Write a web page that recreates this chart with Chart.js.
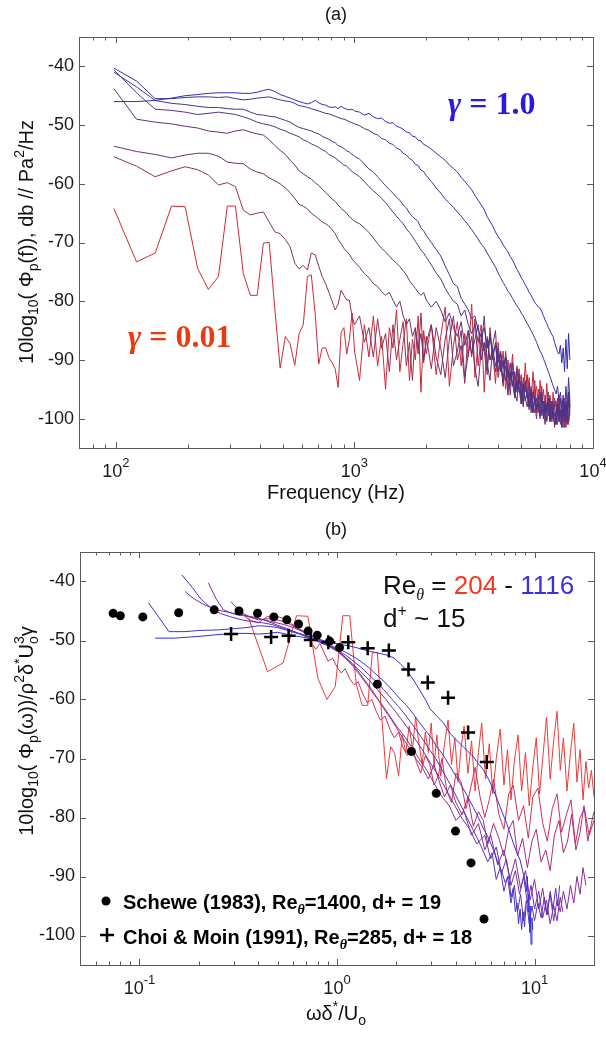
<!DOCTYPE html>
<html>
<head>
<meta charset="utf-8">
<script src="https://cdn.jsdelivr.net/npm/chart.js@4/dist/chart.umd.min.js"></script>
<style>
  html, body { margin: 0; padding: 0; background: #fff; }
  #wrap { position: relative; width: 606px; height: 1037px; overflow: hidden; }
  canvas { position: absolute; left: 0; }
  #chartA { top: 0; }
  #chartB { top: 518px; }
</style>
</head>
<body>
<div id="wrap">
  <canvas id="chartA" width="606" height="518"></canvas>
  <canvas id="chartB" width="606" height="519"></canvas>
</div>
<script>
// ---- panel (a): spectra vs frequency, gamma = 1.0 (psd1) ... 0.01 (psd8)
const freqHz = [98,122,146,171,195,220,244,269,293,317,342,366,391,415,439,464,488,513,537,562,586,610,635,659,684,708,732,757,781,806,830,854,879,903,928,952,977,1001,
  1050,1100,1150,1200,1250,1300,1350,1400,1450,1500,1550,1600,1650,1700,1750,1800,1850,1900,1950,2000,
  2100,2200,2300,2400,2500,2600,2700,2800,2900,3000,3100,3200,3300,3400,3500,3600,3700,3800,3900,4000,
  4100,4200,4300,4400,4500,4600,4700,4800,4900,5000,5100,5200,5300,5400,5500,5600,5700,5800,5900,6000,
  6100,6200,6300,6400,6500,6600,6700,6800,6900,7000,7100,7200,7300,7400,7500,7600,7700,7800,7900,8000];

const psd1 = [-46.0,-46.0,-45.8,-45.4,-45.0,-44.8,-44.6,-44.5,-44.5,-44.5,-44.6,-44.6,-44.4,-44.1,-43.9,-44.3,-44.8,-45.1,-45.4,-45.7,-46.0,-46.2,-46.4,-46.2,-45.8,-46.2,-46.5,-46.6,-46.9,-47.0,-46.9,-47.2,-46.8,-47.1,-47.3,-47.4,-47.3,-47.6,
  -47.8,-48.3,-48.0,-48.6,-48.9,-48.8,-49.4,-49.7,-49.6,-50.2,-50.4,-50.7,-51.2,-51.3,-51.9,-52.0,-52.6,-52.7,-53.3,-53.5,
  -54.1,-54.8,-55.4,-56.0,-56.8,-57.4,-58.0,-58.9,-59.6,-60.3,-61.0,-62.0,-62.8,-63.6,-64.4,-65.6,-66.4,-67.2,-68.2,-69.0,
  -69.6,-70.4,-71.0,-71.6,-72.4,-73.0,-73.8,-74.6,-75.2,-76.0,-76.5,-77.2,-77.8,-78.5,-79.0,-79.6,-80.2,-80.6,-81.0,-81.2,
  -81.8,-82.5,-83.2,-83.8,-84.5,-85.0,-85.6,-86.0,-87.0,-87.8,-88.6,-89.0,-87.5,-90.5,-88.0,-92.0,-86.5,-91.5,-85.5,-90.0];
const psd2 = [-40.3,-42.5,-45.5,-45.5,-45.3,-45.2,-45.2,-45.3,-45.2,-45.5,-45.7,-45.6,-45.4,-45.3,-45.2,-45.5,-45.7,-45.9,-46.0,-46.3,-46.7,-46.8,-47.0,-47.2,-47.4,-47.6,-47.8,-48.0,-48.1,-48.3,-48.5,-48.7,-48.9,-49.0,-49.2,-49.4,-49.6,-49.8,
  -50.1,-50.6,-50.9,-51.4,-51.7,-52.3,-52.5,-53.1,-53.3,-53.9,-54.2,-54.8,-55.1,-55.7,-56.0,-56.7,-56.9,-57.7,-57.9,-58.6,
  -59.6,-60.7,-61.6,-62.6,-63.3,-64.0,-64.8,-65.5,-66.3,-67.0,-67.8,-68.6,-69.4,-70.3,-70.9,-71.8,-72.6,-73.4,-74.2,-75.2,
  -76.0,-76.8,-77.5,-78.3,-78.8,-79.5,-80.2,-80.8,-81.3,-82.0,-82.5,-83.2,-83.8,-84.4,-85.0,-85.6,-86.3,-87.0,-87.8,-88.5,
  -89.0,-89.8,-90.5,-91.3,-92.0,-92.8,-93.6,-94.4,-95.0,-95.8,-94.5,-97.0,-95.5,-98.0,-96.0,-99.0,-94.5,-98.5,-93.0,-97.0];
const psd3 = [-41.0,-43.5,-45.8,-46.3,-46.5,-46.8,-47.0,-47.0,-47.2,-47.3,-47.3,-47.8,-48.2,-48.3,-48.5,-48.6,-48.9,-49.2,-49.5,-50.0,-50.4,-50.6,-50.8,-51.0,-51.3,-51.5,-51.9,-52.2,-52.4,-52.8,-53.0,-53.5,-53.7,-54.0,-54.4,-54.6,-55.0,-55.3,
  -55.8,-56.6,-57.5,-58.0,-58.8,-59.6,-60.3,-61.0,-61.6,-62.3,-62.8,-63.6,-64.1,-65.0,-65.6,-66.0,-66.5,-67.5,-68.0,-68.8,
  -70.0,-71.2,-72.3,-74.0,-75.5,-77.0,-77.5,-79.5,-80.5,-81.5,-83.0,-82.5,-85.0,-86.0,-84.5,-88.0,-86.0,-89.0,-87.5,-90.5,
  -88.5,-91.5,-89.5,-93.0,-90.5,-94.5,-92.0,-95.5,-93.0,-96.5,-94.0,-97.0,-95.5,-98.0,-95.0,-99.0,-96.5,-98.0,-97.5,-99.5,
  -96.5,-100.0,-98.0,-99.0,-97.0,-100.5,-98.5,-99.5,-97.5,-101.0,-98.0,-100.0,-96.5,-99.5,-98.5,-100.5,-97.0,-99.0,-95.5,-98.0];
const psd4 = [-40.6,-44.5,-47.3,-47.5,-47.8,-48.2,-48.0,-47.8,-48.0,-48.2,-48.6,-49.0,-49.5,-49.8,-50.0,-50.3,-50.7,-51.0,-51.4,-51.7,-52.0,-52.5,-52.8,-53.2,-53.5,-53.8,-54.2,-54.5,-55.0,-55.3,-55.6,-56.0,-56.4,-56.8,-57.0,-57.5,-57.9,-58.2,
  -58.8,-59.6,-60.5,-61.2,-61.8,-62.5,-63.2,-64.0,-64.8,-65.5,-66.2,-66.8,-67.7,-68.3,-69.0,-69.8,-70.5,-71.3,-71.8,-72.5,
  -73.8,-75.2,-76.2,-77.8,-79.0,-80.0,-80.5,-82.5,-81.5,-84.0,-85.5,-84.0,-87.0,-85.5,-88.5,-86.5,-90.0,-88.0,-91.0,-89.0,
  -92.0,-90.0,-93.5,-91.5,-94.5,-92.0,-96.0,-93.5,-95.0,-97.5,-94.5,-96.5,-98.0,-95.5,-97.0,-99.0,-96.0,-98.5,-97.0,-100.0,
  -98.0,-99.0,-97.0,-100.5,-98.5,-99.5,-97.5,-100.0,-99.0,-101.0,-97.5,-100.0,-98.5,-101.5,-99.0,-100.0,-97.5,-100.5,-96.0,-99.0];
const psd5 = [-43.8,-49.0,-49.5,-49.8,-50.2,-50.5,-51.0,-51.2,-51.4,-51.0,-50.8,-51.2,-51.5,-51.7,-52.5,-53.5,-54.3,-55.0,-56.0,-56.8,-57.8,-58.3,-58.8,-59.2,-59.8,-60.3,-60.9,-61.5,-62.0,-62.6,-63.0,-63.6,-64.2,-64.6,-65.0,-65.6,-66.0,-66.4,
  -66.8,-67.5,-68.3,-69.2,-70.2,-71.0,-71.6,-72.3,-73.0,-73.5,-74.1,-74.8,-75.5,-76.5,-77.2,-77.8,-78.5,-79.0,-78.5,-79.8,
  -81.0,-80.0,-81.5,-83.5,-82.0,-84.5,-86.0,-83.5,-87.5,-85.0,-89.0,-86.5,-84.0,-90.0,-87.0,-91.5,-85.5,-89.5,-92.0,-88.0,
  -91.0,-93.5,-89.5,-95.0,-92.0,-94.0,-96.5,-91.5,-95.5,-93.5,-97.5,-94.0,-96.0,-98.5,-95.0,-97.5,-99.0,-96.5,-98.0,-95.5,
  -99.5,-97.0,-100.0,-98.0,-96.5,-100.5,-98.5,-97.0,-101.0,-99.0,-97.5,-100.5,-99.0,-101.5,-97.0,-100.0,-98.5,-101.0,-97.0,-99.5];
const psd6 = [-53.6,-54.5,-55.0,-55.6,-55.1,-54.8,-54.8,-55.3,-56.3,-56.5,-56.6,-57.5,-58.0,-58.3,-59.0,-59.5,-60.0,-60.7,-61.5,-62.5,-63.5,-63.8,-64.3,-65.0,-65.5,-66.0,-66.5,-66.8,-67.2,-67.8,-68.5,-69.5,-70.2,-71.0,-71.6,-72.0,-72.8,-73.3,
  -74.2,-75.3,-76.0,-77.0,-77.5,-78.4,-79.0,-78.5,-79.8,-81.0,-80.0,-82.5,-84.0,-83.0,-86.0,-84.5,-88.0,-85.5,-90.0,-87.0,
  -84.0,-89.5,-92.5,-86.5,-83.0,-91.0,-88.5,-85.0,-93.0,-89.0,-86.0,-91.5,-94.5,-88.0,-82.5,-90.5,-93.5,-87.5,-85.0,-92.0,
  -89.0,-94.0,-91.0,-96.0,-93.0,-90.5,-95.5,-97.0,-92.5,-95.0,-98.0,-93.5,-96.5,-94.0,-99.0,-95.5,-97.5,-100.0,-96.0,-98.5,
  -95.5,-99.0,-101.0,-97.5,-99.5,-96.5,-100.0,-98.0,-101.5,-99.0,-96.5,-100.5,-98.5,-100.0,-97.0,-101.5,-99.5,-98.0,-100.5,-97.0];
const psd7 = [-55.4,-57.0,-58.8,-57.8,-57.1,-57.6,-58.5,-60.2,-59.8,-60.5,-64.5,-65.3,-65.0,-64.8,-66.5,-68.2,-68.5,-69.5,-70.7,-73.5,-74.5,-73.9,-74.7,-71.8,-72.1,-74.0,-75.8,-77.0,-78.5,-80.0,-81.5,-80.5,-78.1,-79.0,-79.8,-79.8,-82.6,-84.0,
  -82.5,-87.0,-84.5,-89.5,-83.0,-88.0,-85.5,-92.0,-84.0,-90.0,-86.5,-83.5,-91.0,-87.0,-93.5,-85.0,-89.0,-82.0,-90.5,-86.0,
  -91.5,-84.5,-88.0,-93.0,-86.5,-82.5,-90.0,-87.5,-94.0,-85.0,-89.5,-83.0,-91.0,-86.0,-88.5,-92.5,-84.5,-90.0,-87.0,-93.0,
  -90.0,-94.5,-88.5,-92.0,-96.0,-90.5,-93.5,-95.0,-91.5,-97.5,-93.0,-95.5,-92.5,-98.0,-94.5,-96.5,-93.5,-99.0,-95.0,-97.0,
  -94.5,-100.0,-96.0,-98.5,-95.5,-99.5,-97.0,-100.5,-96.5,-98.0,-99.5,-97.0,-101.0,-98.5,-100.0,-97.5,-101.5,-99.0,-100.5,-98.0];
const psd8 = [-64.2,-73.3,-71.8,-63.8,-63.9,-74.4,-78.0,-75.8,-63.8,-63.8,-75.3,-79.0,-79.0,-70.1,-70.0,-81.5,-91.4,-86.0,-87.2,-90.9,-85.5,-84.0,-75.8,-75.5,-82.0,-90.7,-88.0,-87.9,-89.6,-90.5,-91.5,-94.7,-85.3,-84.5,-89.0,-86.5,-82.0,-88.5,
  -93.5,-84.0,-89.5,-82.5,-91.0,-86.0,-95.0,-84.5,-88.0,-81.5,-92.0,-87.0,-83.0,-93.5,-86.5,-90.0,-82.5,-95.5,-85.0,-89.0,
  -84.0,-92.5,-86.0,-81.0,-94.5,-87.5,-83.5,-91.0,-85.5,-89.5,-80.5,-93.0,-87.0,-84.0,-95.5,-86.0,-90.0,-88.5,-94.0,-87.0,
  -92.0,-88.5,-95.0,-90.0,-93.5,-89.0,-96.5,-91.0,-94.0,-92.5,-97.0,-90.5,-95.5,-93.0,-98.0,-92.0,-96.0,-94.5,-99.0,-93.5,
  -97.5,-95.0,-99.5,-94.0,-98.5,-96.0,-100.5,-95.5,-98.0,-97.0,-101.0,-96.0,-99.5,-97.5,-101.5,-96.5,-100.0,-98.0,-101.0,-97.5];

// ---- panel (b): normalised spectra, Re_theta 1116 (1) ... 204 (8)
const omega1 = [0.12,0.15,0.2,0.25,0.3,0.35,0.4,0.45,0.5,0.55,0.6,0.66,0.72,0.8,0.88,0.95,1.05,1.15,1.25,1.35,1.45,1.55,1.65,1.8,1.95,2.1,2.25,2.44,2.6,2.8,2.96,3.2,3.46,3.73,4.0,4.36,4.6,4.9,5.2,5.5,5.85,6.19,6.45,6.69,6.95,7.23,7.5,7.82,8.1,8.45,8.7,8.95,9.1,9.2,9.3,9.35,9.45,9.5,9.6,9.7,9.8];
const phi1 = [-49.6,-49.6,-49.3,-49.0,-48.8,-48.8,-48.9,-48.8,-48.6,-48.9,-49.2,-49.4,-49.6,-49.8,-50.1,-50.4,-50.7,-50.9,-51.2,-51.5,-51.8,-52.0,-52.2,-52.5,-53.0,-54.0,-55.0,-56.7,-58.2,-60.0,-61.6,-62.8,-64.0,-65.7,-66.8,-68.0,-68.8,-69.7,-70.9,-71.9,-73.5,-75.3,-76.8,-78.2,-79.6,-81.0,-82.6,-84.4,-85.8,-87.2,-89.0,-90.6,-92.5,-90.0,-96.0,-93.0,-99.5,-95.0,-101.5,-97.0,-99.0];
const omega2 = [0.111,0.125,0.141,0.17,0.2,0.25,0.3,0.35,0.4,0.45,0.5,0.55,0.6,0.66,0.72,0.8,0.88,0.95,1.05,1.15,1.25,1.35,1.45,1.55,1.65,1.8,1.95,2.1,2.25,2.44,2.6,2.8,3.0,3.2,3.46,3.73,4.0,4.3,4.6,4.9,5.2,5.5,5.85,6.2,6.5,6.8,7.1,7.4,7.6,7.8,8.0,8.15,8.3,8.45,8.6,8.75,8.9,9.06];
const phi2 = [-43.6,-46.0,-48.5,-48.5,-48.3,-48.2,-48.0,-47.8,-47.5,-47.6,-47.8,-48.2,-48.6,-49.0,-49.4,-49.9,-50.5,-51.0,-51.6,-52.3,-53.0,-53.8,-54.6,-55.5,-56.3,-57.5,-58.8,-60.0,-61.0,-62.5,-63.8,-65.2,-66.5,-68.0,-69.5,-71.3,-73.0,-74.8,-76.5,-78.3,-80.0,-81.8,-83.5,-85.5,-87.5,-89.0,-91.0,-90.0,-93.5,-92.0,-96.0,-94.5,-98.0,-95.5,-99.0,-96.0,-98.5,-95.0];
const omega3 = [0.164,0.185,0.205,0.23,0.256,0.29,0.33,0.37,0.42,0.47,0.52,0.57,0.63,0.7,0.77,0.85,0.93,1.02,1.12,1.22,1.33,1.45,1.58,1.72,1.88,2.05,2.24,2.44,2.66,2.9,3.16,3.45,3.76,4.1,4.47,4.87,5.3,5.8,6.1,6.4,6.7,7.0,7.3,7.6,7.9,8.2,8.5,8.8,9.1,9.4,9.7,10.0,10.4,10.8,11.2,11.6,12.0,12.4,12.8,13.1,13.4];
const phi3 = [-38.9,-41.0,-43.0,-44.5,-45.4,-46.0,-46.5,-46.8,-47.0,-47.3,-47.8,-48.2,-48.7,-49.2,-49.8,-50.4,-51.0,-51.8,-52.6,-53.6,-54.6,-55.8,-57.0,-58.3,-59.8,-61.2,-62.8,-64.5,-66.3,-68.2,-70.0,-72.3,-74.5,-77.0,-79.5,-82.0,-84.5,-87.5,-86.0,-90.5,-88.5,-92.5,-90.0,-94.5,-91.5,-96.0,-93.0,-97.5,-94.0,-98.0,-95.0,-97.5,-94.5,-97.0,-93.5,-96.5,-92.5,-95.5,-92.0,-95.0,-91.5];
const omega4 = [0.170,0.19,0.215,0.245,0.28,0.32,0.36,0.4,0.45,0.5,0.56,0.62,0.68,0.75,0.83,0.91,1.0,1.1,1.2,1.32,1.45,1.6,1.75,1.92,2.1,2.3,2.52,2.76,3.0,3.3,3.6,3.95,4.3,4.7,5.1,5.6,6.0,6.4,6.8,7.2,7.6,8.0,8.4,8.8,9.2,9.6,10.0,10.5,11.0,11.5,12.0,12.5,13.0,13.5,13.9];
const phi4 = [-41.7,-43.0,-44.0,-44.8,-45.2,-45.6,-45.9,-46.2,-46.8,-47.4,-48.0,-48.6,-49.2,-49.8,-50.4,-51.0,-51.8,-52.8,-54.0,-55.3,-56.7,-58.3,-59.8,-61.5,-63.2,-65.0,-67.0,-69.0,-71.0,-73.2,-75.5,-78.0,-80.2,-82.0,-84.5,-83.0,-87.0,-85.0,-89.5,-87.0,-91.5,-89.0,-93.0,-90.0,-94.5,-91.5,-95.5,-92.5,-97.0,-94.0,-98.0,-95.0,-97.5,-93.5,-96.0];
const omega5 = [0.223,0.245,0.266,0.3,0.34,0.38,0.43,0.48,0.54,0.6,0.67,0.74,0.82,0.9,1.0,1.1,1.2,1.3,1.42,1.55,1.7,1.85,2.0,2.2,2.4,2.62,2.85,3.1,3.4,3.7,4.0,4.4,4.8,5.2,5.6,6.0,6.5,7.0,7.5,8.0,8.5,9.0,9.5,10.0,10.5,11.0,11.5,12.0,12.5,13.0,13.5,14.0,14.6,15.2,15.8,16.4,17.0,17.6,18.2];
const phi5 = [-40.2,-43.0,-44.8,-45.5,-45.8,-46.2,-46.5,-46.9,-47.3,-47.8,-48.5,-49.2,-50.0,-50.8,-51.8,-53.0,-54.3,-55.8,-57.5,-59.3,-61.0,-62.8,-64.5,-66.3,-68.2,-70.2,-72.0,-74.2,-76.5,-78.0,-80.5,-79.0,-83.0,-81.0,-85.5,-83.0,-88.0,-85.5,-90.5,-87.0,-92.0,-89.0,-94.0,-90.5,-95.5,-92.0,-96.5,-93.0,-97.5,-94.0,-96.0,-92.5,-95.5,-91.5,-94.5,-90.0,-93.0,-88.5,-91.5];
const omega6 = [0.29,0.32,0.36,0.4,0.45,0.5,0.56,0.62,0.69,0.76,0.84,0.92,1.0,1.1,1.2,1.3,1.4,1.5,1.6,1.72,1.85,2.0,2.15,2.3,2.5,2.7,2.9,3.1,3.3,3.5,3.75,4.0,4.3,4.6,4.9,5.2,5.5,5.8,6.2,6.6,7.0,7.4,7.8,8.2,8.7,9.2,9.7,10.2,10.8,11.4,12.0,12.6,13.3,14.0,14.7,15.4,16.2,17.0,17.8,18.6,19.4,20.0];
const phi6 = [-43.4,-45.0,-46.0,-46.5,-46.3,-46.5,-47.0,-47.8,-48.5,-49.3,-50.0,-50.8,-51.6,-52.8,-54.0,-55.5,-57.0,-58.3,-59.8,-61.5,-63.0,-64.8,-66.5,-68.0,-70.0,
  -71.5,-73.5,-71.0,-74.0,-76.5,-74.5,-77.5,-79.5,-76.5,-81.5,-79.0,-80.5,-84.5,-81.0,-83.5,-86.5,-82.0,-80.5,-86.5,-83.5,-88.5,-84.0,-82.0,-87.5,-85.5,-89.0,-83.0,-80.5,-86.0,-84.0,-79.5,-85.5,-82.5,-78.0,-84.0,-81.0,-79.0];
const omega7 = [0.33,0.36,0.4,0.44,0.48,0.53,0.58,0.63,0.68,0.73,0.78,0.82,0.86,0.9,0.95,1.0,1.05,1.1,1.16,1.22,1.28,1.35,1.42,1.5,1.58,1.66,1.75,1.85,1.95,2.05,2.15,2.27,2.4,2.52,2.65,2.8,2.95,3.1,3.25,3.4,3.6,3.8,4.0,4.25,4.5,4.75,5.0,5.3,5.6,5.9,6.2,6.6,7.0,7.4,7.8,8.3,8.8,9.3,9.8,10.4,11.0,11.6,12.3,13.0,13.7,14.5,15.3,16.1,17.0,17.9,18.9,20.0];
const phi7 = [-45.5,-46.5,-47.0,-46.0,-45.8,-46.2,-47.0,-48.0,-48.6,-50.0,-51.5,-50.5,-52.0,-53.5,-53.0,-54.5,-55.5,-54.8,-56.5,-57.5,-57.0,-59.0,-60.5,-60.0,-62.0,-63.5,-62.8,-65.0,-66.5,-65.5,-68.0,-69.5,
  -68.0,-70.5,-72.5,-69.5,-71.0,-74.5,-73.0,-70.0,-75.5,-77.5,-72.5,-74.0,-78.5,-75.0,-71.5,-76.5,-80.0,-77.0,-73.5,-79.5,-82.0,-76.0,-74.5,-80.5,-78.0,-83.5,-76.5,-75.0,-81.0,-84.0,-78.5,-76.0,-82.5,-79.5,-77.0,-84.5,-80.0,-78.5,-83.0,-80.5];
const omega8 = [0.357,0.445,0.533,0.624,0.712,0.80,0.89,0.98,1.07,1.16,1.25,1.34,1.43,1.51,1.60,1.69,1.78,1.87,1.96,2.05,2.14,2.23,2.32,2.41,2.5,2.6,2.7,2.8,2.9,3.0,3.1,3.2,3.35,3.5,3.65,3.8,3.95,4.1,4.25,4.4,4.6,4.8,5.0,5.2,5.4,5.65,5.9,6.15,6.4,6.7,7.0,7.3,7.6,7.9,8.25,8.6,9.0,9.4,9.8,10.2,10.6,11.0,11.5,12.0,12.5,13.0,13.5,14.0,14.6,15.2,15.8,16.4,17.0,17.6,18.2,18.8,19.4,20.0];
const phi8 = [-46.2,-55.3,-53.8,-45.8,-45.9,-56.4,-60.0,-57.8,-45.8,-45.8,-57.3,-61.0,-61.0,-52.1,-52.0,-63.5,-73.4,-68.0,-69.2,-72.9,-66.0,-69.0,-64.5,-68.5,-63.0,-67.5,-71.0,-65.5,-69.0,-64.0,-71.5,-66.0,-73.0,-67.5,-63.5,-71.0,-66.5,-74.0,-68.0,-64.5,-72.5,-67.0,-75.5,-69.0,-64.0,-73.5,-67.5,-76.0,-70.0,-65.0,-74.5,-68.5,-77.0,-70.5,-66.0,-75.5,-69.0,-78.0,-71.5,-66.5,-76.0,-70.0,-63.0,-73.5,-67.0,-62.0,-72.0,-66.5,-75.5,-69.0,-64.0,-74.0,-68.5,-77.0,-70.5,-75.0,-72.0,-76.5];

// reference data
const scheweX = [0.0736,0.080,0.104,0.158,0.239,0.319,0.396,0.479,0.557,0.639,0.714,0.794,0.918,1.03,1.60,2.38,3.18,3.98,4.77,5.55];
const scheweY = [-45.4,-45.8,-46.0,-45.3,-44.8,-45.0,-45.4,-46.0,-46.5,-47.2,-48.4,-49.1,-50.1,-51.2,-57.4,-68.8,-75.9,-82.3,-87.7,-97.2];
const choiX = [0.291,0.464,0.569,0.737,0.904,1.14,1.43,1.83,2.30,2.88,3.65,4.61,5.73];
const choiY = [-48.9,-49.4,-49.2,-49.9,-50.3,-50.3,-51.3,-51.7,-54.9,-57.1,-59.7,-65.6,-70.6];

// ticks
const yTicks = [-100,-90,-80,-70,-60,-50,-40];
const yTickLabels = ['-100','-90','-80','-70','-60','-50','-40'];
const xTicksA = [100,1000,10000];
const xTickExpA = ['2','3','4'];
const xMinorA = [70,80,90,200,300,400,500,600,700,800,900,2000,3000,4000,5000,6000,7000,8000,9000];
const xTicksB = [0.1,1,10];
const xTickExpB = ['-1','0','1'];
const xMinorB = [0.05,0.06,0.07,0.08,0.09,0.2,0.3,0.4,0.5,0.6,0.7,0.8,0.9,2,3,4,5,6,7,8,9,20];

const colorsA = ['#2f2fb4','#3c3399','#48328c','#543281','#603276','#70306c','#92305a','#cc2a36'];
const colorsB = ['#3030dc','#4232cc','#5a32b8','#7030a8','#8a2d96','#aa2c7a','#cc305a','#e83c3a'];

const SANS = '"Liberation Sans", Arial, Helvetica, sans-serif';
const SERIF = '"Liberation Serif", "Times New Roman", serif';

function runsWidth(ctx, runs) {
  let w = 0;
  for (const r of runs) {
    ctx.font = r.font;
    if (r.adv !== false) w += ctx.measureText(r.t).width;
  }
  return w;
}

function drawRuns(ctx, x, y, runs, align) {
  let cx = align === 'center' ? x - runsWidth(ctx, runs) / 2 : x;
  ctx.textAlign = 'left';
  ctx.textBaseline = 'alphabetic';
  for (const r of runs) {
    ctx.font = r.font;
    ctx.fillStyle = r.color || '#111';
    ctx.fillText(r.t, cx, y + (r.dy || 0));
    if (r.adv !== false) cx += ctx.measureText(r.t).width;
  }
}

function drawRotated(ctx, x, y, runs) {
  ctx.save();
  ctx.translate(x, y);
  ctx.rotate(-Math.PI / 2);
  drawRuns(ctx, 0, 0, runs, 'center');
  ctx.restore();
}

function drawAxes(chart, xMajor, xMinor, xExp) {
  const ctx = chart.ctx, a = chart.chartArea;
  const xs = chart.scales.x, ys = chart.scales.y;
  ctx.save();
  ctx.strokeStyle = '#5a5a5a';
  ctx.lineWidth = 1;
  ctx.strokeRect(Math.round(a.left) + 0.5, Math.round(a.top) + 0.5,
                 Math.round(a.right - a.left), Math.round(a.bottom - a.top));
  ctx.beginPath();
  const xtick = (v, len) => {
    const px = Math.round(xs.getPixelForValue(v)) + 0.5;
    ctx.moveTo(px, a.bottom); ctx.lineTo(px, a.bottom - len);
    ctx.moveTo(px, a.top); ctx.lineTo(px, a.top + len);
  };
  xMajor.forEach(v => xtick(v, 6));
  xMinor.forEach(v => xtick(v, 3.5));
  yTicks.forEach(v => {
    const py = Math.round(ys.getPixelForValue(v)) + 0.5;
    ctx.moveTo(a.left, py); ctx.lineTo(a.left + 6, py);
    ctx.moveTo(a.right, py); ctx.lineTo(a.right - 6, py);
  });
  ctx.stroke();

  ctx.fillStyle = '#1a1a1a';
  ctx.font = '18px ' + SANS;
  ctx.textAlign = 'right';
  ctx.textBaseline = 'middle';
  yTicks.forEach((v, i) => ctx.fillText(yTickLabels[i], a.left - 5, ys.getPixelForValue(v)));

  xMajor.forEach((v, i) => {
    drawRuns(ctx, xs.getPixelForValue(v), a.bottom + 29, [
      { t: '10', font: '18px ' + SANS, color: '#1a1a1a' },
      { t: xExp[i], font: '13px ' + SANS, color: '#1a1a1a', dy: -10 }
    ], 'center');
  });
  ctx.restore();
}

const F20 = '20px ' + SANS, F14 = '14px ' + SANS;

const decorA = {
  id: 'decorA',
  afterDraw(chart) {
    const ctx = chart.ctx;
    drawAxes(chart, xTicksA, xMinorA, xTickExpA);
    drawRuns(ctx, 336, 20, [{ t: '(a)', font: '18px ' + SANS }], 'center');
    drawRuns(ctx, 336, 499, [{ t: 'Frequency (Hz)', font: F20 }], 'center');
    drawRotated(ctx, 33, 242, [
      { t: '10log', font: F20 }, { t: '10', font: F14, dy: 5 },
      { t: '( \u03A6', font: F20 }, { t: 'p', font: F14, dy: 5 },
      { t: '(f)), db // Pa', font: F20 }, { t: '2', font: F14, dy: -9 },
      { t: '/Hz', font: F20 }
    ]);
    drawRuns(ctx, 448, 114, [
      { t: '\u03B3', font: 'bold italic 32px ' + SERIF, color: '#2a18e6' },
      { t: ' = 1.0', font: 'bold 32px ' + SERIF, color: '#2a18e6' }
    ]);
    drawRuns(ctx, 128, 347, [
      { t: '\u03B3', font: 'bold italic 32px ' + SERIF, color: '#ec3a10' },
      { t: ' = 0.01', font: 'bold 32px ' + SERIF, color: '#ec3a10' }
    ]);
  }
};

const decorB = {
  id: 'decorB',
  afterDraw(chart) {
    const ctx = chart.ctx;
    drawAxes(chart, xTicksB, xMinorB, xTickExpB);
    drawRuns(ctx, 336, 17, [{ t: '(b)', font: '18px ' + SANS }], 'center');
    drawRuns(ctx, 336, 502, [
      { t: '\u03C9\u03B4', font: F20 }, { t: '*', font: F14, dy: -9 },
      { t: '/U', font: F20 }, { t: 'o', font: F14, dy: 5 }
    ], 'center');
    drawRotated(ctx, 33, 213, [
      { t: '10log', font: F20 }, { t: '10', font: F14, dy: 5 },
      { t: '( \u03A6', font: F20 }, { t: 'p', font: F14, dy: 5 },
      { t: '(\u03C9))/\u03C1', font: F20 }, { t: '2', font: F14, dy: -9 },
      { t: '\u03B4', font: F20 }, { t: '*', font: F14, dy: -9 },
      { t: 'U', font: F20 }, { t: 'o', font: F14, dy: 5, adv: false }, { t: '3', font: F14, dy: -9 },
      { t: '\u03B3', font: F20 }
    ]);
    const F26 = '26px ' + SANS;
    drawRuns(ctx, 383, 76, [
      { t: 'Re', font: F26 }, { t: '\u03B8', font: 'italic 16px ' + SERIF, dy: 6 },
      { t: ' = ', font: F26 }, { t: '204', font: F26, color: '#f03c1e' },
      { t: ' - ', font: F26 }, { t: '1116', font: F26, color: '#3a30e0' }
    ]);
    drawRuns(ctx, 383, 109, [
      { t: 'd', font: F26 }, { t: '+', font: '16px ' + SANS, dy: -11 }, { t: ' ~ 15', font: F26 }
    ]);
    // legend
    const FB = 'bold 20px ' + SANS, FT = 'bold italic 14px ' + SERIF;
    ctx.save();
    ctx.fillStyle = '#000';
    ctx.beginPath(); ctx.arc(106, 383, 4.5, 0, Math.PI * 2); ctx.fill();
    ctx.strokeStyle = '#000'; ctx.lineWidth = 2.5;
    ctx.beginPath(); ctx.moveTo(100, 417); ctx.lineTo(114, 417); ctx.moveTo(107, 410); ctx.lineTo(107, 424); ctx.stroke();
    ctx.restore();
    drawRuns(ctx, 123, 391, [
      { t: 'Schewe (1983), Re', font: FB, color: '#000' }, { t: '\u03B8', font: FT, color: '#000', dy: 5 },
      { t: '=1400, d+ = 19', font: FB, color: '#000' }
    ]);
    drawRuns(ctx, 123, 426, [
      { t: 'Choi & Moin (1991), Re', font: FB, color: '#000' }, { t: '\u03B8', font: FT, color: '#000', dy: 5 },
      { t: '=285, d+ = 18', font: FB, color: '#000' }
    ]);
  }
};

function baseOptions(padding, xmin, xmax) {
  return {
    responsive: false,
    animation: false,
    events: [],
    layout: { padding },
    plugins: { legend: { display: false }, tooltip: { enabled: false }, title: { display: false } },
    scales: {
      x: { type: 'logarithmic', min: xmin, max: xmax, display: false },
      y: { type: 'linear', min: -105, max: -35, display: false }
    },
    elements: { point: { radius: 0 }, line: { borderWidth: 1, tension: 0 } }
  };
}

// panel (a)
const psdA = [psd1, psd2, psd3, psd4, psd5, psd6, psd7, psd8];
new Chart(document.getElementById('chartA'), {
  type: 'line',
  data: {
    datasets: psdA.map((vals, k) => ({
      data: freqHz.map((f, i) => ({ x: f, y: vals[i] })),
      borderColor: colorsA[k],
      borderWidth: 1,
      pointRadius: 0,
      fill: false
    }))
  },
  options: baseOptions({ left: 79, top: 37, right: 13, bottom: 70 }, 70, 10000),
  plugins: [decorA]
});

// panel (b)
const omegaB = [omega1, omega2, omega3, omega4, omega5, omega6, omega7, omega8];
const phiB = [phi1, phi2, phi3, phi4, phi5, phi6, phi7, phi8];
const lineSetsB = omegaB.map((xs, k) => ({
  data: xs.map((x, i) => ({ x, y: phiB[k][i] })),
  borderColor: colorsB[k],
  borderWidth: 1,
  pointRadius: 0,
  fill: false,
  order: 1
}));
new Chart(document.getElementById('chartB'), {
  type: 'line',
  data: {
    datasets: [
      {
        data: scheweX.map((x, i) => ({ x, y: scheweY[i] })),
        showLine: false, pointStyle: 'circle', pointRadius: 4.5,
        pointBackgroundColor: '#000', pointBorderColor: '#000', pointBorderWidth: 0, order: 0
      },
      {
        data: choiX.map((x, i) => ({ x, y: choiY[i] })),
        showLine: false, pointStyle: 'cross', pointRadius: 7,
        pointBorderColor: '#000', pointBorderWidth: 2.5, order: 0
      },
      ...lineSetsB
    ]
  },
  options: baseOptions({ left: 80, top: 34, right: 12, bottom: 72 }, 0.05, 20),
  plugins: [decorB]
});
</script>
</body>
</html>
